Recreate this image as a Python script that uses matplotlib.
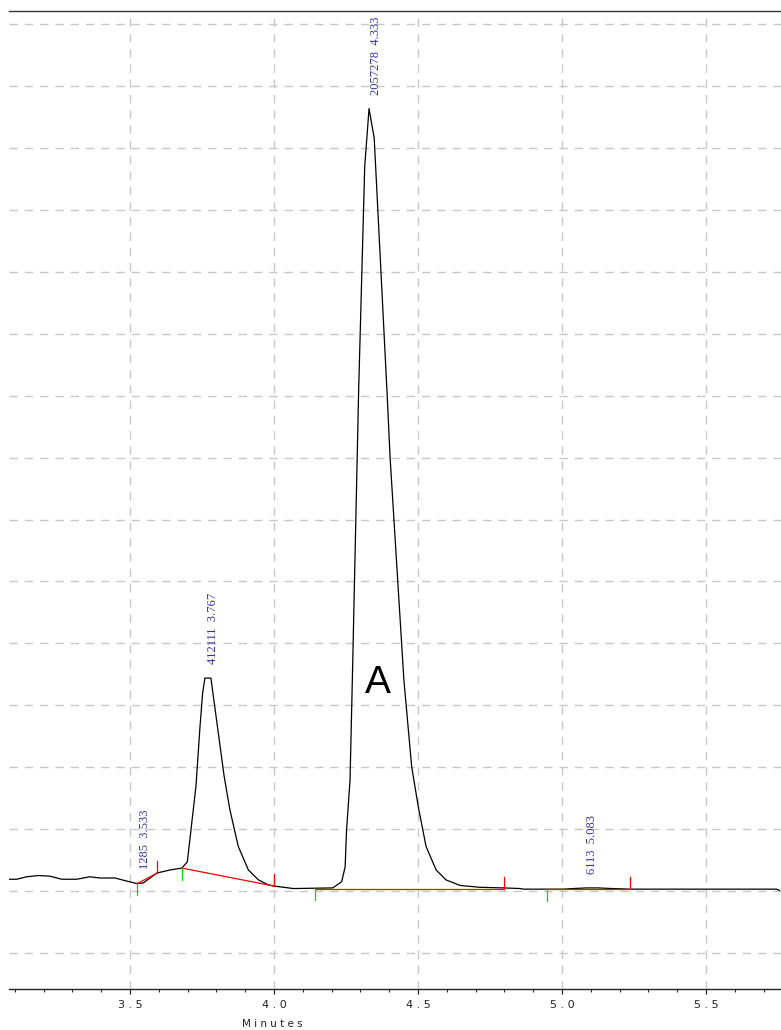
import numpy as np
import matplotlib
matplotlib.use("Agg")
import matplotlib.pyplot as plt
from matplotlib.ticker import MultipleLocator, FixedLocator

# ---- data (time in minutes, signal in grid units) ----
times = [3.080, 3.107, 3.141, 3.182, 3.222, 3.263, 3.315, 3.361, 3.396, 3.448,
         3.489, 3.525, 3.546, 3.593, 3.639, 3.680, 3.699, 3.729, 3.743, 3.752,
         3.760, 3.781, 3.796, 3.827, 3.847, 3.876, 3.911, 3.946, 3.980, 4.000,
         4.067, 4.204, 4.235, 4.247, 4.252, 4.264, 4.272, 4.294, 4.315, 4.330,
         4.348, 4.393, 4.403, 4.451, 4.478, 4.501, 4.528, 4.563, 4.597, 4.646,
         4.715, 4.796, 4.854, 4.866, 5.005, 5.039, 5.086, 5.126, 5.173, 5.236,
         5.745, 5.755]
signal = [0.19, 0.19, 0.23, 0.25, 0.24, 0.19, 0.19, 0.23, 0.21, 0.21,
          0.16, 0.12, 0.13, 0.29, 0.34, 0.37, 0.47, 1.69, 2.65, 3.19,
          3.44, 3.44, 2.92, 1.85, 1.31, 0.72, 0.34, 0.18, 0.10, 0.08,
          0.04, 0.05, 0.15, 0.39, 0.99, 1.79, 3.41, 8.10, 11.70, 12.64,
          12.16, 8.01, 7.01, 3.41, 2.01, 1.36, 0.72, 0.34, 0.18, 0.09,
          0.06, 0.05, 0.04, 0.03, 0.03, 0.04, 0.05, 0.05, 0.04, 0.03,
          0.03, 0.01]

peak_rt = [3.533, 3.767, 4.333, 5.083]
peak_area = [1285, 412111, 2057278, 6113]

bl_start = [3.525, 3.680, 4.143, 4.947]
bl_end = [3.595, 4.000, 4.797, 5.235]
bl_y0 = [0.12, 0.37, 0.04, 0.03]
bl_y1 = [0.29, 0.08, 0.04, 0.03]

xticks_major = [3.5, 4.0, 4.5, 5.0, 5.5]
xtick_labels = ["3 . 5", "4 . 0", "4 . 5", "5 . 0", "5 . 5"]

# ---- figure ----
W, H, DPI = 781, 1030, 100
fig = plt.figure(figsize=(W / DPI, H / DPI), dpi=DPI)
ax = fig.add_axes([9 / W, 1 - 989 / H, 1 - 9 / W, (989 - 11) / H])

ax.set_xlim(3.0799, 5.7604)
ax.set_ylim(-1.583, 14.216)

# grid
ax.set_xticks(xticks_major)
ax.set_xticklabels(xtick_labels, fontsize=8, color="#222222")
ax.xaxis.set_minor_locator(MultipleLocator(0.1))
ax.set_yticks(np.arange(-1, 15, 1))
ax.tick_params(axis="y", left=False, labelleft=False)
ax.tick_params(axis="x", which="major", direction="out", length=3.6,
               width=0.9, color="#222222", pad=4)
ax.tick_params(axis="x", which="minor", direction="out", length=2.2,
               width=0.8, color="#222222")
ax.grid(True, which="major", color="#c8c8c8", linestyle=(0, (6, 5)),
        linewidth=1.0)
ax.set_axisbelow(True)

for s in ("left", "right"):
    ax.spines[s].set_visible(False)
ax.spines["top"].set_color("#333333")
ax.spines["top"].set_linewidth(1.0)
ax.spines["bottom"].set_color("#222222")
ax.spines["bottom"].set_linewidth(1.0)

# trace
ax.plot(times, signal, color="black", linewidth=0.9, zorder=3)

# integration baselines and markers
tk = 0.19
for x0, x1, y0, y1 in zip(bl_start, bl_end, bl_y0, bl_y1):
    ax.plot([x0, x1], [y0, y1], color="#ff0000", linewidth=0.9, zorder=4)
    ax.plot([x0, x0], [y0, y0 - tk], color="#00dd00", linewidth=0.9, zorder=4)
    ax.plot([x1, x1], [y1, y1 + tk], color="#ff0000", linewidth=0.9, zorder=4)

# peak labels
t_arr = np.array(times)
s_arr = np.array(signal)
for rt, area in zip(peak_rt, peak_area):
    m = (t_arr > rt - 0.02) & (t_arr < rt + 0.02)
    top = max(np.interp(rt, t_arr, s_arr), s_arr[m].max() if m.any() else 0)
    ax.text(rt, top + 0.22, f"{area}  {rt:.3f}", rotation=90,
            ha="left", va="bottom", fontsize=9, color="#3232a0",
            family="Liberation Serif", zorder=5)

ax.text(4.359, 3.36, "A", fontsize=28, family="Liberation Sans",
        ha="center", va="center", color="black", zorder=5)

ax.text((272.5 - 9) / (W - 9), -35 / (989 - 11), "M i n u t e s",
        transform=ax.transAxes, ha="center", va="center", fontsize=7.5,
        color="#222222")

fig.savefig("out.png", dpi=DPI)
